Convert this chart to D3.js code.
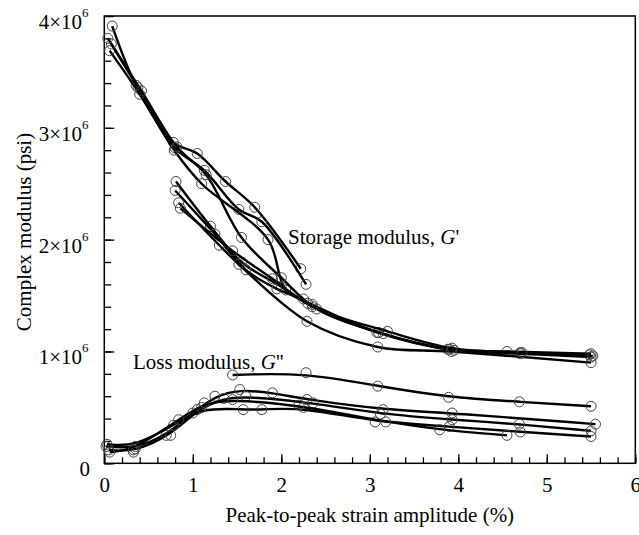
<!DOCTYPE html>
<html>
<head>
<meta charset="utf-8">
<script src="https://cdn.jsdelivr.net/npm/d3@7"></script>
<style>
  body { margin: 0; background: #fff; }
  text { font-family: "Liberation Serif", "DejaVu Serif", serif; fill: #000; }
</style>
</head>
<body>
<script>
// values in units of 10^6 psi, x in % strain
var storage1 = [[0.09,3.91],[0.36,3.38],[0.78,2.87],[1.05,2.77],[1.37,2.52],[1.70,2.29],[2.22,1.74]];
var storage2 = [[0.04,3.80],[0.38,3.36],[0.80,2.82],[1.13,2.62],[1.52,2.27],[1.78,2.16],[2.28,1.60]];
var storage3 = [[0.06,3.69],[0.40,3.30],[0.79,2.80],[1.10,2.50],[1.85,2.00],[2.05,1.55],[2.35,1.42],[3.10,1.17],[3.90,1.02],[4.70,0.99],[5.48,0.97]];
var storage4 = [[0.08,3.75],[0.42,3.33],[0.82,2.83],[1.15,2.58],[1.55,2.02],[2.00,1.66],[2.40,1.38],[3.15,1.16],[3.95,1.01],[4.70,0.98],[5.50,0.95]];
var storage5 = [[0.81,2.52],[1.20,2.12],[1.55,1.80],[2.00,1.58],[2.30,1.43],[3.08,1.17],[3.88,1.02],[4.55,1.00],[5.50,0.98]];
var storage6 = [[0.80,2.44],[1.25,2.05],[1.60,1.73],[1.95,1.56],[2.25,1.47]];
var storage7 = [[0.84,2.33],[1.30,1.95],[1.52,1.78],[2.29,1.27],[3.09,1.04],[3.92,1.00],[5.50,0.90]];
var storage8 = [[0.86,2.28],[1.45,1.90],[1.90,1.65],[2.35,1.40],[3.20,1.18],[3.93,1.03],[4.72,0.99],[5.52,0.96]];

var loss1 = [[1.45,0.79],[2.28,0.81],[3.09,0.69],[3.89,0.59],[4.69,0.55],[5.50,0.51]];
var loss2 = [[0.02,0.15],[0.35,0.13],[0.70,0.25],[1.00,0.45],[1.25,0.60],[1.53,0.66],[1.90,0.63],[2.29,0.57],[3.15,0.48],[3.93,0.45],[5.55,0.35]];
var loss3 = [[0.05,0.12],[0.33,0.10],[0.75,0.25],[1.05,0.48],[1.35,0.58],[1.60,0.60],[2.36,0.54],[3.12,0.44],[3.93,0.39],[4.69,0.35],[5.50,0.29]];
var loss4 = [[0.03,0.17],[0.35,0.15],[0.78,0.34],[1.10,0.50],[1.57,0.48],[1.78,0.48],[2.25,0.50],[3.06,0.37],[3.90,0.33],[4.70,0.28],[5.50,0.24]];
var loss5 = [[0.06,0.10],[0.33,0.12],[0.84,0.39],[1.13,0.54],[1.45,0.57],[2.20,0.52],[3.18,0.37],[3.79,0.30],[4.55,0.25]];

var xTicks = [0, 1, 2, 3, 4, 5, 6];
var yTicks = [0, 1, 2, 3, 4];
var yLabels = ["0", "1\u00d710", "2\u00d710", "3\u00d710", "4\u00d710"];

var width = 639, height = 535;
var plotLeft = 104.3, plotRight = 635.3, plotTop = 16, plotBottom = 463.3;

var svg = d3.select("body").append("svg")
  .attr("width", width)
  .attr("height", height);

var x = d3.scaleLinear().domain([0, 6]).range([plotLeft, plotRight]);
var y = d3.scaleLinear().domain([0, 4]).range([plotBottom, plotTop]);

// minor + major ticks, pointing inward
var gx = svg.append("g").attr("transform", "translate(0," + plotBottom + ")");
gx.call(d3.axisBottom(x).tickValues(d3.range(0, 6.01, 0.2)).tickSizeInner(-6).tickSizeOuter(0).tickFormat(""));
gx.append("g").call(d3.axisBottom(x).tickValues(xTicks).tickSizeInner(-9).tickSizeOuter(0).tickPadding(14).tickFormat(d3.format("d")));

var gy = svg.append("g").attr("transform", "translate(" + plotLeft + ",0)");
gy.call(d3.axisLeft(y).tickValues(d3.range(0, 4.01, 0.2)).tickSizeInner(-7).tickSizeOuter(0).tickFormat(""));
gy.append("g").call(d3.axisLeft(y).tickValues(yTicks).tickSizeInner(-10).tickSizeOuter(0).tickFormat(""));

svg.selectAll(".domain").remove();
svg.selectAll(".tick line").attr("stroke", "#000").attr("stroke-width", 1.3);
svg.selectAll("g").attr("font-family", null);

gx.selectAll(".tick text")
  .style("font-family", "Liberation Serif, DejaVu Serif, serif")
  .style("font-size", "21px");

// y tick labels with superscript exponent
yTicks.forEach(function(v, i) {
  svg.append("text")
    .attr("x", i === 0 ? 90 : 82)
    .attr("y", y(v) + 13)
    .attr("text-anchor", "end")
    .style("font-size", "21px")
    .text(yLabels[i]);
  if (i > 0) {
    svg.append("text")
      .attr("x", 82)
      .attr("y", y(v) + 1)
      .style("font-size", "13px")
      .text("6");
  }
});

// frame
svg.append("rect")
  .attr("x", plotLeft).attr("y", plotTop)
  .attr("width", plotRight - plotLeft).attr("height", plotBottom - plotTop)
  .attr("fill", "none").attr("stroke", "#000").attr("stroke-width", 1.5);

// storage curves pass through their points, loss curves are smoothed fits
var storageLine = d3.line()
  .x(function(d) { return x(d[0]); })
  .y(function(d) { return y(d[1]); })
  .curve(d3.curveCatmullRom.alpha(0.5));

var lossLine = d3.line()
  .x(function(d) { return x(d[0]); })
  .y(function(d) { return y(d[1]); })
  .curve(d3.curveBasis);

var storageSeries = [storage1, storage2, storage3, storage4, storage5, storage6, storage7, storage8];
var lossSeries = [loss1, loss2, loss3, loss4, loss5];

var g = svg.append("g");
function drawSeries(s, lineGen) {
  g.append("path")
    .attr("d", lineGen(s))
    .attr("fill", "none")
    .attr("stroke", "#000")
    .attr("stroke-width", 2.4);
  g.selectAll(null)
    .data(s)
    .enter()
    .append("circle")
    .attr("cx", function(d) { return x(d[0]); })
    .attr("cy", function(d) { return y(d[1]); })
    .attr("r", 5)
    .attr("fill", "none")
    .attr("stroke", "#444")
    .attr("stroke-width", 1);
}
storageSeries.forEach(function(s) { drawSeries(s, storageLine); });
lossSeries.forEach(function(s) { drawSeries(s, lossLine); });

// annotations
var a1 = svg.append("text").attr("x", 288).attr("y", 244).style("font-size", "21px");
a1.append("tspan").text("Storage modulus, ");
a1.append("tspan").style("font-style", "italic").text("G");
a1.append("tspan").text("'");

var a2 = svg.append("text").attr("x", 133).attr("y", 369).style("font-size", "21px");
a2.append("tspan").text("Loss modulus, ");
a2.append("tspan").style("font-style", "italic").text("G");
a2.append("tspan").text("''");

// axis titles
svg.append("text")
  .attr("x", (plotLeft + plotRight) / 2)
  .attr("y", 522)
  .attr("text-anchor", "middle")
  .style("font-size", "21px")
  .text("Peak-to-peak strain amplitude (%)");

svg.append("text")
  .attr("transform", "translate(31,232) rotate(-90)")
  .attr("text-anchor", "middle")
  .style("font-size", "21px")
  .text("Complex modulus (psi)");
</script>
</body>
</html>
